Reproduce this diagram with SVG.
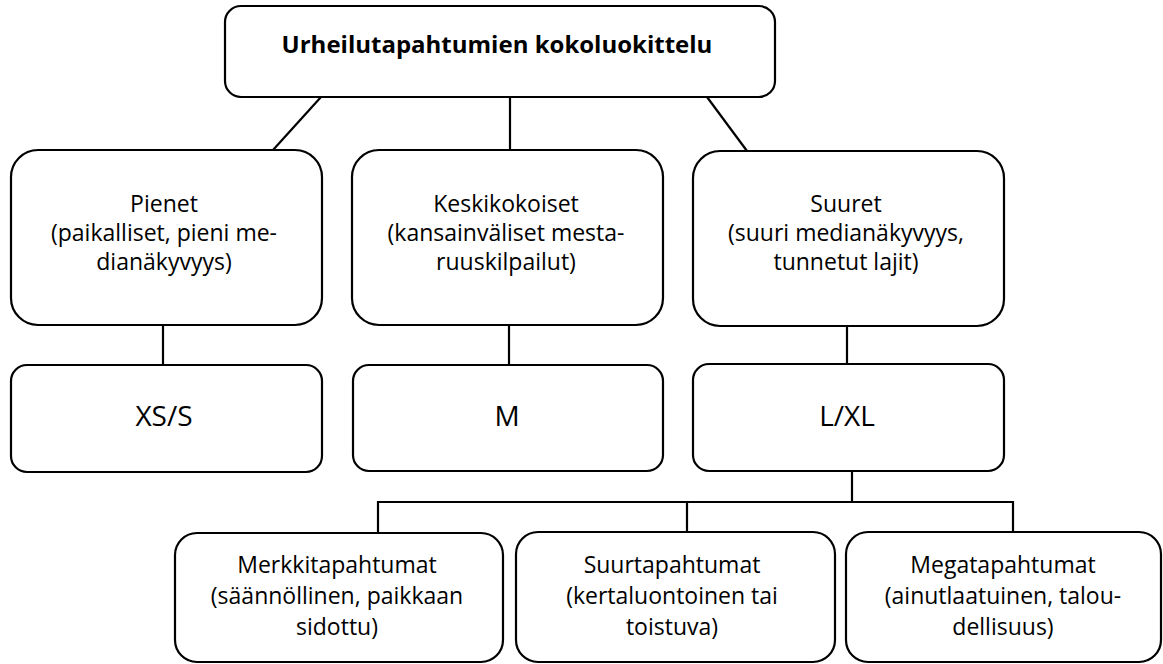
<svg xmlns="http://www.w3.org/2000/svg" width="1163" height="664" viewBox="0 0 1163 664">
<style>
.box{fill:#fff;stroke:#000;stroke-width:2.2}
.ln{stroke:#000;stroke-width:2.2;fill:none}
text{font-family:"Open Sans","Liberation Sans",sans-serif;fill:#000;text-anchor:middle}
.t{font-size:23px}
.big{font-size:28px}
.title{font-size:24px;font-weight:bold}
</style>
<rect width="1163" height="664" fill="#fff"/>
<g id="connectors">
<line class="ln" x1="321" y1="97" x2="273" y2="150"/>
<line class="ln" x1="510" y1="97" x2="510" y2="150"/>
<line class="ln" x1="707" y1="97" x2="747" y2="151"/>
<line class="ln" x1="163" y1="325" x2="163" y2="365"/>
<line class="ln" x1="509" y1="325" x2="509" y2="365"/>
<line class="ln" x1="847" y1="326" x2="847" y2="364"/>
<line class="ln" x1="852" y1="471" x2="852" y2="502"/>
<polyline class="ln" points="378,532 378,502 1013,502 1013,532"/>
<line class="ln" x1="687" y1="502" x2="687" y2="532"/>
</g>
<g id="root">
<rect class="box" x="225" y="6" width="550" height="91" rx="16"/>
<text class="title" x="497" y="53">Urheilutapahtumien kokoluokittelu</text>
</g>
<g id="pienet">
<rect class="box" x="11" y="150" width="311" height="175" rx="27"/>
<text class="t" x="164" y="212">Pienet<tspan x="164" y="241">(paikalliset, pieni me-</tspan><tspan x="164" y="270">dianäkyvyys)</tspan></text>
</g>
<g id="keskikokoiset">
<rect class="box" x="352" y="150" width="311" height="175" rx="27"/>
<text class="t" x="506" y="212">Keskikokoiset<tspan x="506" y="241">(kansainväliset mesta-</tspan><tspan x="506" y="270">ruuskilpailut)</tspan></text>
</g>
<g id="suuret">
<rect class="box" x="693" y="151" width="311" height="175" rx="27"/>
<text class="t" x="846" y="212">Suuret<tspan x="846" y="241">(suuri medianäkyvyys,</tspan><tspan x="846" y="270">tunnetut lajit)</tspan></text>
</g>
<g id="xs-s">
<rect class="box" x="11" y="365" width="311" height="107" rx="16"/>
<text class="big" x="164" y="426">XS/S</text>
</g>
<g id="m">
<rect class="box" x="353" y="365" width="310" height="106" rx="16"/>
<text class="big" x="507" y="426">M</text>
</g>
<g id="l-xl">
<rect class="box" x="693" y="364" width="311" height="107" rx="16"/>
<text class="big" x="847" y="426">L/XL</text>
</g>
<g id="merkkitapahtumat">
<rect class="box" x="175" y="533" width="328" height="129" rx="22"/>
<text class="t" x="337" y="573">Merkkitapahtumat<tspan x="337" y="604">(säännöllinen, paikkaan</tspan><tspan x="337" y="635">sidottu)</tspan></text>
</g>
<g id="suurtapahtumat">
<rect class="box" x="516" y="532" width="319" height="130" rx="22"/>
<text class="t" x="672" y="573">Suurtapahtumat<tspan x="672" y="604">(kertaluontoinen tai</tspan><tspan x="672" y="635">toistuva)</tspan></text>
</g>
<g id="megatapahtumat">
<rect class="box" x="846" y="532" width="315" height="130" rx="22"/>
<text class="t" x="1003" y="573">Megatapahtumat<tspan x="1003" y="604">(ainutlaatuinen, talou-</tspan><tspan x="1003" y="635">dellisuus)</tspan></text>
</g>
</svg>
